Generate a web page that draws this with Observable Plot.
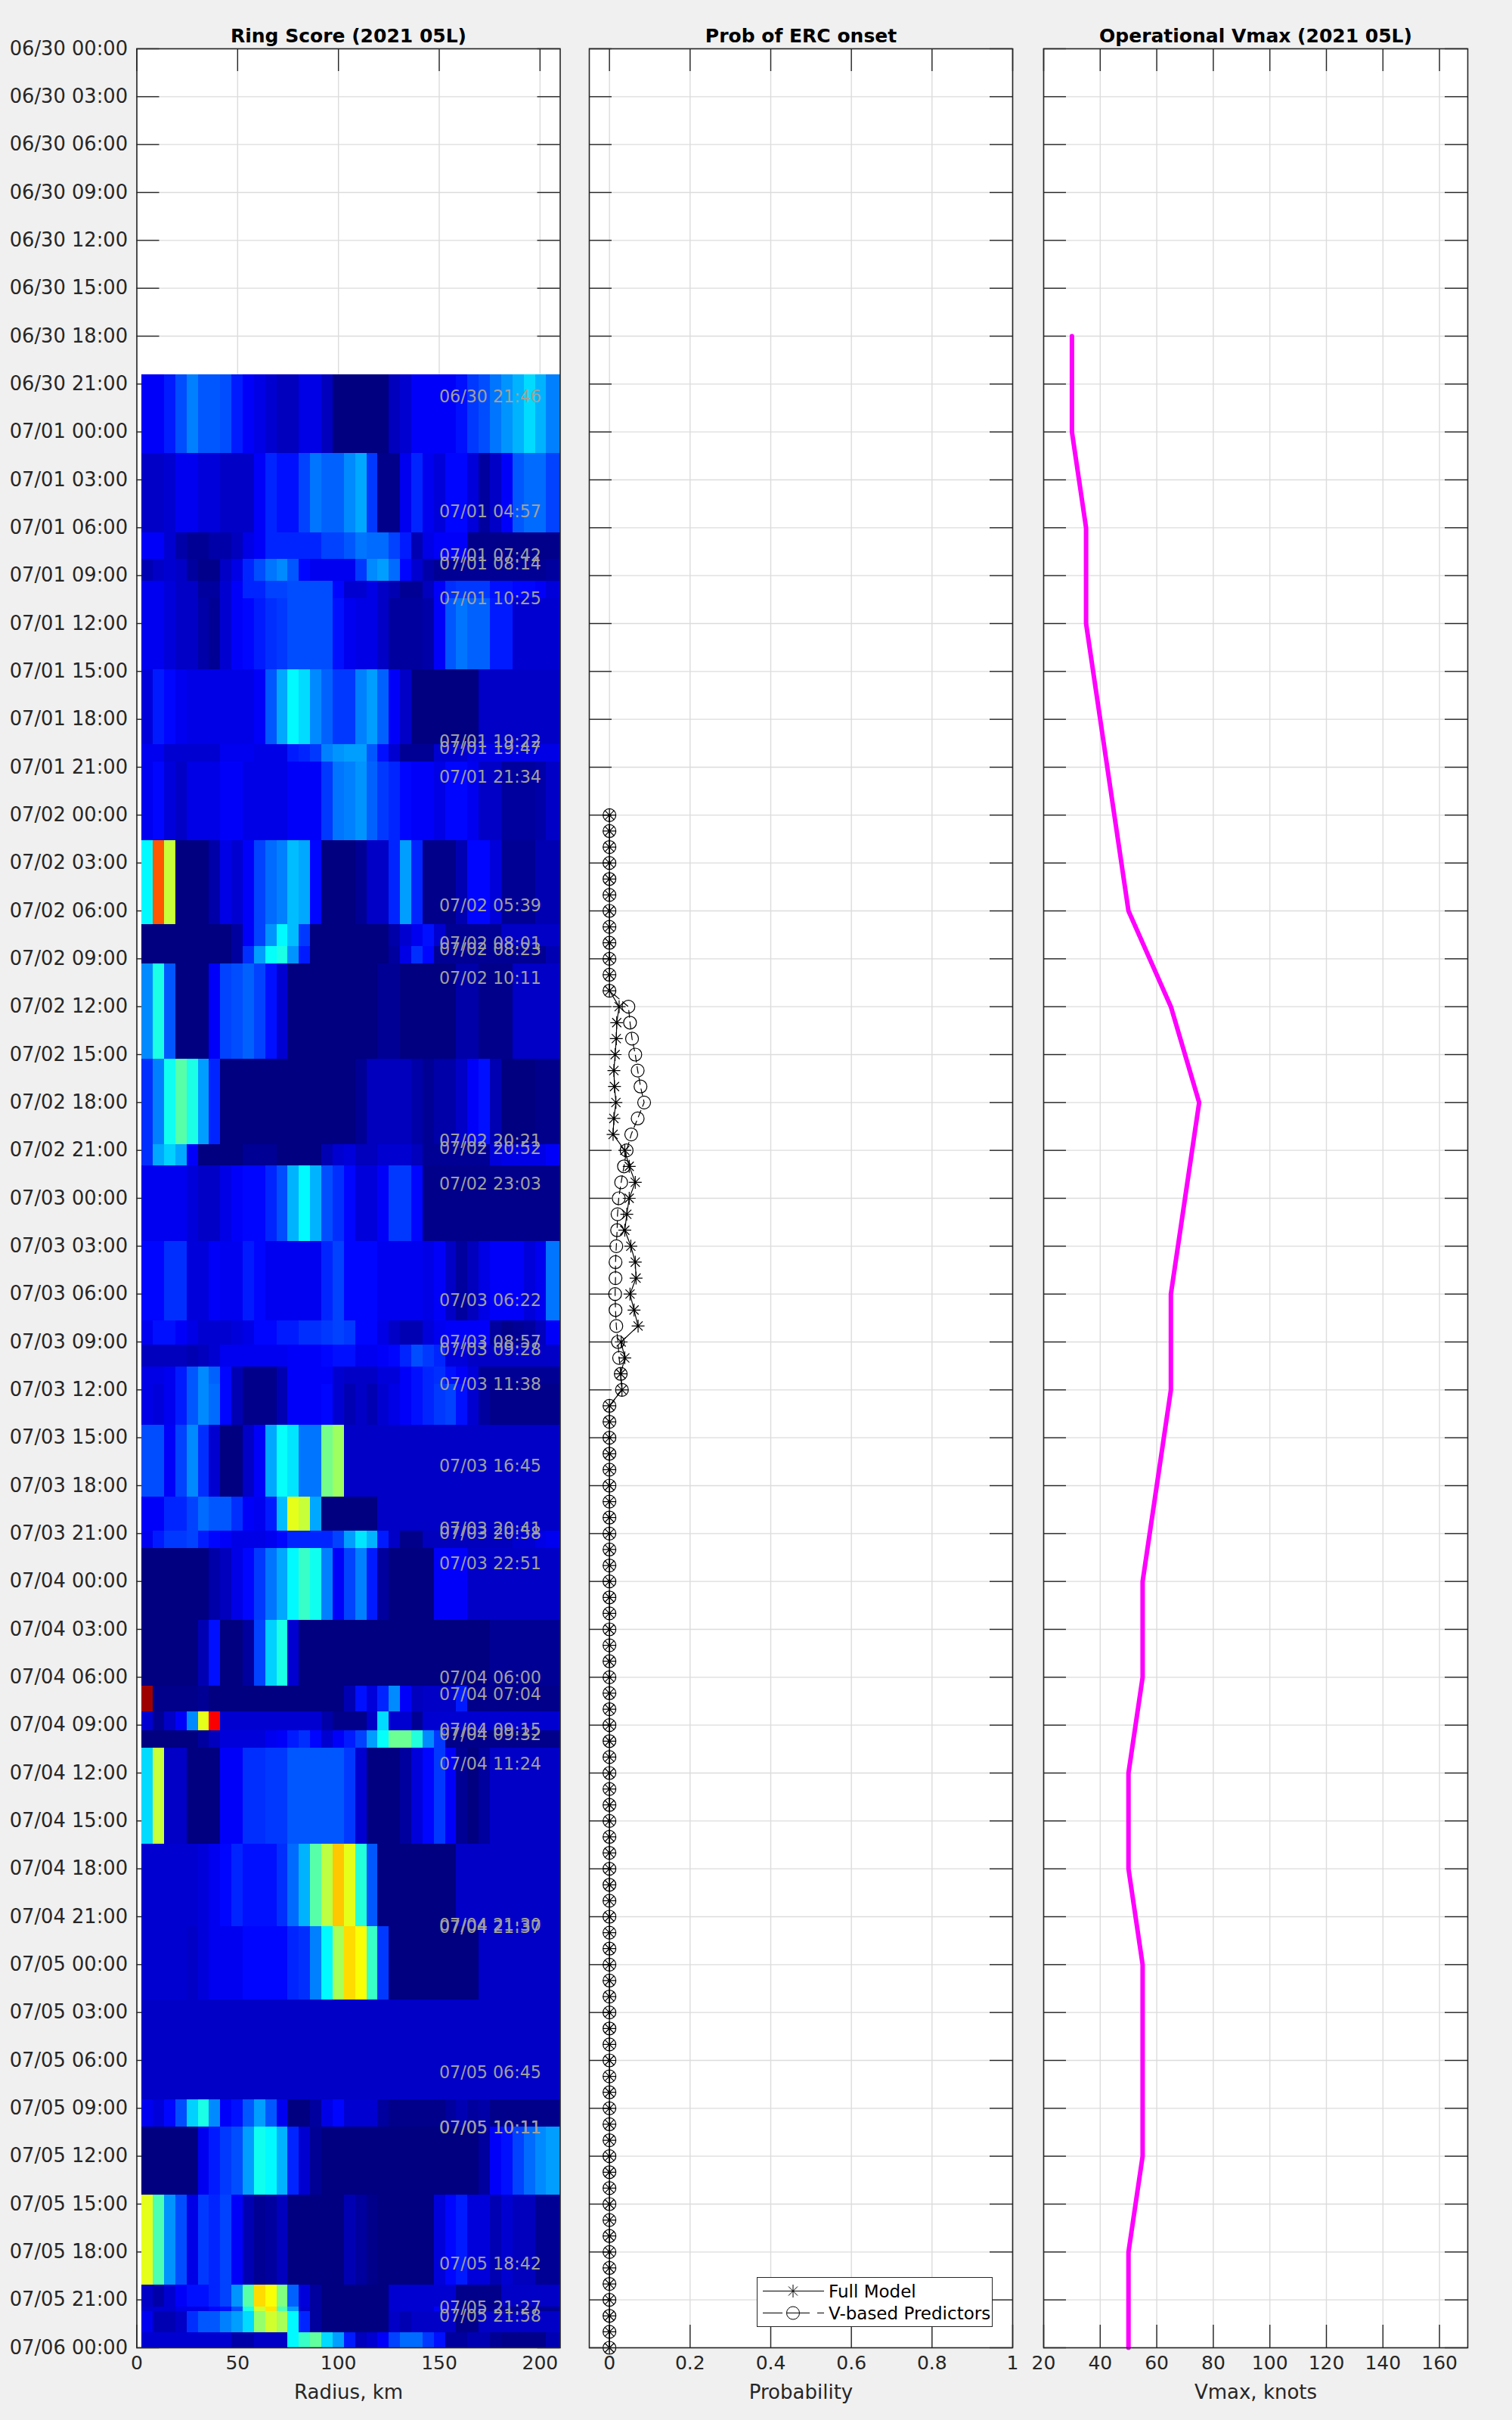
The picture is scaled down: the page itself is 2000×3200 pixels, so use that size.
<!DOCTYPE html>
<html>
<head>
<meta charset="utf-8">
<title>Ring Score 2021 05L</title>
<script src="https://cdn.jsdelivr.net/npm/d3@7"></script>
<script src="https://cdn.jsdelivr.net/npm/@observablehq/plot@0.6"></script>
<style>
html,body{margin:0;padding:0;background:#f0f0f0;}
#page{position:relative;width:2000px;height:3200px;background:#f0f0f0;overflow:hidden;font-family:"DejaVu Sans",sans-serif;}
.panel{position:absolute;top:0;}
#legend{position:absolute;left:1001px;top:3011px;width:310px;height:64px;background:#fff;border:1.5px solid #262626;}
</style>
</head>
<body>
<div id="page"></div>
<script>
// ---- Data: radial ring score per overpass (jet-scale level, 0-100) ----
const radiusStartKm = 2.5;
const radiusStepKm = 5.575;
const rowEdgeHours = [20.42,25.35,30.32,31.98,33.36,34.44,38.89,43.58,44.66,49.59,54.85,56.22,57.31,63.28,68.62,69.95,74.69,79.68,81.17,82.56,83.64,86.21,90.72,92.84,93.93,98.43,102.55,104.16,105.37,106.45,112.47,117.62,122.21,128.48,130.15,134.42,140.07,141.43,141.72,143.05,144];
const row01 = [12,12,15,20,25,21,21,20,15,12,10,8,6,6,10,10,6,0,0,0,0,0,6,8,12,12,12,12,14,18,20,24,27,30,34,30,25];
const row02 = [7,7,8,11,11,9,9,7,7,7,12,16,14,14,19,24,22,22,26,29,18,1,1,11,16,11,9,13,13,9,3,7,12,21,23,23,19];
const row03 = [12,12,8,4,2,2,4,4,6,10,12,16,16,16,16,16,19,19,21,24,23,23,19,15,5,10,12,12,12,1,1,1,1,1,1,1,1];
const row04 = [5,7,8,7,3,1,1,7,10,16,20,24,26,21,13,11,11,11,11,18,26,28,23,13,8,4,2,2,2,2,2,2,2,2,2,2,3];
const row05 = [11,11,9,7,7,3,3,8,12,16,16,19,19,20,20,20,20,13,8,8,10,7,5,2,2,6,12,17,18,18,18,14,14,13,13,12,9];
const row06 = [11,11,9,7,7,4,2,8,12,13,15,17,18,20,20,20,20,14,11,10,10,7,3,3,3,4,12,21,24,22,22,15,15,8,8,8,8];
const row07 = [9,15,13,11,10,10,10,10,10,10,12,21,29,37,34,26,22,18,18,25,28,22,12,7,0,0,0,0,0,0,7,7,7,7,7,7,7];
const row08 = [11,11,8,8,8,8,8,11,11,11,10,10,10,15,16,18,25,27,28,28,21,14,8,2,2,2,8,8,8,10,10,10,10,10,10,10,10];
const row09 = [11,13,9,7,10,10,10,12,12,10,10,10,10,12,12,12,18,24,25,27,22,18,16,13,12,12,10,13,13,11,7,7,3,3,3,4,7];
const row10 = [37,79,57,0,0,0,4,10,8,12,19,23,25,31,29,13,0,0,0,2,7,7,16,28,16,1,1,1,5,13,13,9,2,2,2,5,5];
const row11 = [0,0,0,0,0,0,0,0,3,12,19,27,37,31,18,0,0,0,0,0,0,0,4,8,11,14,8,2,2,2,2,2,7,7,7,7,7];
const row12 = [0,0,0,0,0,0,0,0,3,17,28,38,40,27,15,0,0,0,0,0,0,0,3,10,17,13,2,2,2,2,2,2,2,2,2,2,5];
const row13 = [26,40,21,0,0,0,12,19,20,22,19,14,8,0,0,0,0,0,0,0,0,2,2,0,0,0,0,0,4,4,1,1,1,7,7,7,7];
const row14 = [17,25,39,46,40,28,16,0,0,0,0,0,0,0,0,0,0,0,0,2,6,6,6,6,4,2,4,4,7,12,14,5,0,0,0,1,1];
const row15 = [17,29,33,29,12,0,0,0,0,2,2,2,0,0,0,0,5,8,9,6,6,8,8,8,6,2,2,2,2,2,2,9,10,10,10,10,12];
const row16 = [11,11,11,11,9,7,7,10,12,13,13,16,20,30,37,30,20,17,13,9,9,12,18,18,13,1,1,1,1,1,1,1,1,1,1,1,1];
const row17 = [13,13,17,17,9,9,12,11,11,15,13,11,11,11,11,11,16,19,13,13,13,11,11,11,11,10,12,7,3,6,10,12,12,12,9,11,24];
const row18 = [11,14,14,12,10,8,8,8,9,10,13,13,15,15,17,17,18,19,18,13,13,10,7,5,5,9,11,12,12,12,12,3,1,2,3,6,12];
const row19 = [6,6,6,6,5,6,8,11,11,11,11,11,11,12,12,12,13,14,14,11,11,12,13,16,20,18,16,9,9,7,7,7,7,7,7,7,7];
const row20 = [10,10,11,15,21,26,22,13,5,1,1,1,5,12,12,12,12,8,7,7,7,9,9,12,14,16,17,14,12,9,2,2,2,2,2,2,2];
const row21 = [10,9,11,15,21,26,23,13,5,1,1,1,5,12,12,12,13,8,5,7,5,8,10,12,14,16,18,19,14,8,3,1,1,1,1,1,1];
const row22 = [20,20,12,19,26,17,8,0,0,7,12,29,38,35,24,24,49,53,7,7,7,7,7,7,7,7,7,7,7,7,7,7,7,7,7,7,7];
const row23 = [12,12,16,16,19,23,21,21,17,12,11,15,31,60,57,29,0,0,0,0,0,7,7,7,7,7,7,7,7,7,7,7,7,7,7,7,7];
const row24 = [11,15,18,18,19,15,13,12,10,10,10,11,13,16,16,16,16,19,28,35,30,15,7,1,1,6,6,6,6,6,6,6,6,8,8,10,11];
const row25 = [0,0,0,0,0,0,4,6,10,13,18,24,29,37,43,39,25,12,19,25,15,3,0,0,0,0,12,12,12,7,7,7,7,7,7,7,7];
const row26 = [0,0,0,0,0,5,14,0,0,3,19,33,40,8,0,0,0,0,0,0,0,0,0,0,0,0,0,0,0,0,0,2,2,2,2,2,2];
const row27 = [97,1,1,1,1,2,0,0,0,0,0,0,0,0,0,0,0,0,5,14,9,16,26,12,6,7,7,7,15,1,1,1,1,1,1,1,1];
const row28 = [8,2,7,12,26,60,88,8,8,8,8,8,8,8,8,8,4,1,1,1,7,34,8,8,2,8,8,8,8,8,8,8,8,8,8,8,8];
const row29 = [0,0,0,0,0,3,6,9,9,9,9,11,12,15,17,13,8,12,15,19,28,38,48,48,41,26,18,1,1,1,1,1,1,1,1,1,1];
const row30 = [34,57,7,7,0,0,0,12,12,17,17,18,18,21,21,21,21,21,18,8,0,0,0,3,9,13,18,12,2,0,3,7,7,7,7,7,7];
const row31 = [8,8,8,8,8,9,11,13,16,14,14,14,17,23,30,46,56,68,60,41,21,0,0,0,0,0,0,0,7,7,7,7,7,7,7,7,7];
const row32 = [8,8,8,8,7,9,11,11,11,13,13,13,13,16,17,25,37,54,66,62,43,18,0,0,0,0,0,0,0,0,7,7,7,7,7,7,7];
const row33 = [7,7,7,7,7,7,7,7,7,7,7,7,7,7,7,7,7,7,7,7,7,7,7,7,7,7,7,7,7,7,7,7,7,7,7,7,7];
const row34 = [11,9,13,20,33,40,26,12,14,21,28,21,11,0,0,3,10,13,8,8,8,3,1,1,1,1,1,3,5,3,4,1,1,1,1,1,1];
const row35 = [0,0,0,0,0,11,15,18,20,28,39,37,30,16,8,2,0,0,0,0,0,0,0,0,0,0,0,0,0,0,3,12,14,19,23,26,28];
const row36 = [60,45,27,20,10,18,16,19,12,5,2,3,6,0,0,0,0,0,5,3,1,0,0,0,0,0,9,13,15,9,9,5,8,6,6,2,2];
const row37 = [7,4,8,12,14,14,16,19,27,46,66,62,50,22,9,3,0,0,0,0,0,0,8,8,8,8,8,8,1,1,1,1,7,7,7,7,7];
const row38 = [8,8,8,10,10,10,13,14,20,40,58,65,45,28,8,3,0,0,0,0,0,0,8,8,8,8,12,8,2,2,2,2,2,2,2,2,2];
const row39 = [11,5,5,7,17,21,21,25,28,34,52,58,54,37,16,3,0,0,0,0,0,0,7,5,7,7,7,7,1,1,7,7,7,7,7,7,7];
const row40 = [8,8,8,8,8,8,8,8,4,4,7,7,7,37,43,47,34,28,15,6,8,12,19,23,23,18,14,3,3,5,5,2,1,1,1,1,5];
const ringRows = [row01,row02,row03,row04,row05,row06,row07,row08,row09,row10,row11,row12,row13,row14,row15,row16,row17,row18,row19,row20,row21,row22,row23,row24,row25,row26,row27,row28,row29,row30,row31,row32,row33,row34,row35,row36,row37,row38,row39,row40];
const overpassLabels = ["06/30 21:46","07/01 04:57","07/01 07:42","07/01 08:14","07/01 10:25","07/01 19:22","07/01 19:47","07/01 21:34","07/02 05:39","07/02 08:01","07/02 08:23","07/02 10:11","07/02 20:21","07/02 20:52","07/02 23:03","07/03 06:22","07/03 08:57","07/03 09:28","07/03 11:38","07/03 16:45","07/03 20:41","07/03 20:58","07/03 22:51","07/04 06:00","07/04 07:04","07/04 09:15","07/04 09:32","07/04 11:24","07/04 21:30","07/04 21:37","07/05 06:45","07/05 10:11","07/05 10:11","07/05 18:42","07/05 21:27","07/05 21:58"];

// ---- Data: probability of ERC onset, hourly from 07/02 00:00 to 07/06 00:00 ----
const probZeroLead = [0,0,0,0,0,0,0,0,0,0,0,0];
const probFullMid = [.024,.018,.017,.014,.011,.0125,.016,.011,.009,.038,.049,.064,.049,.043,.038,.053,.064,.066,.051,.061,.071,.029,.038,.028,.031];
const probVMid = [.047,.051,.056,.064,.07,.077,.086,.07,.054,.0425,.036,.029,.023,.02,.019,.017,.015,.015,.014,.015,.017,.021,.024,.028,.031];
const probZeroTail = [0,0,0,0,0,0,0,0,0,0,0,0,0,0,0,0,0,0,0,0,0,0,0,0,0,0,0,0,0,0,0,0,0,0,0,0,0,0,0,0,0,0,0,0,0,0,0,0,0,0,0,0,0,0,0,0,0,0,0,0];

// ---- Data: operational Vmax, 6-hourly from 06/30 18:00 ----
const vmaxKnots = [30,30,35,35,40,45,50,65,75,70,65,65,60,55,55,50,50,55,55,55,50,50];

// ---- Ticks and text ----
const radiusTicks = [0,50,100,150,200];
const probTicks = [0,0.2,0.4,0.6,0.8,1];
const vmaxTicks = [20,40,60,80,100,120,140,160];
const titles = ["Ring Score (2021 05L)","Prob of ERC onset","Operational Vmax (2021 05L)"];
const xLabels = ["Radius, km","Probability","Vmax, knots"];
const legendLabels = ["Full Model","V-based Predictors"];

// ---- Helpers ----
const t0 = Date.UTC(2021,5,30);
const atHour = h => new Date(t0 + h*3600e3);
const parseLabel = d3.utcParse("%Y/%m/%d %H:%M");
const timeTicks = d3.range(0,145,3).map(atHour);
const yDomain = [atHour(0),atHour(144)];
const fmtTime = d3.utcFormat("%m/%d %H:%M");
const INK = "#262626", GRID = "#dcdcdc";
const H = 3200, MT = 64, MB = 96, TICK = 30;
const FONT = '25px "DejaVu Sans", sans-serif';

const star8 = {draw(c,size){
  const r = Math.sqrt(size/Math.PI), d = r*Math.SQRT1_2;
  c.moveTo(-r,0);c.lineTo(r,0);c.moveTo(0,-r);c.lineTo(0,r);
  c.moveTo(-d,-d);c.lineTo(d,d);c.moveTo(-d,d);c.lineTo(d,-d);
}};

function panel({left,width,ml,mr,xDomain,xTicks,title,xLabel,fmt,showY,marks}){
  const innerW = width-ml-mr;
  const chart = Plot.plot({
    width, height:H, marginTop:MT, marginBottom:MB, marginLeft:ml, marginRight:mr,
    style:{font:FONT, background:"transparent", overflow:"visible"},
    x:{domain:xDomain, label:null},
    y:{type:"utc", domain:yDomain, range:[MT,H-MB], label:null, axis:showY?undefined:null},
    color:{type:"linear", domain:[0,12.5,37.5,62.5,87.5,100], range:["#000080","#0000ff","#00ffff","#ffff00","#ff0000","#800000"], interpolate:"rgb", clamp:true},
    marks:[
      Plot.frame({fill:"white",stroke:null}),
      Plot.ruleX(xTicks,{stroke:GRID,strokeWidth:1.4}),
      Plot.ruleY(timeTicks,{stroke:GRID,strokeWidth:1.4}),
      Plot.ruleY(timeTicks,{stroke:INK,strokeWidth:1.4,insetRight:innerW-TICK}),
      Plot.ruleY(timeTicks,{stroke:INK,strokeWidth:1.4,insetLeft:innerW-TICK}),
      Plot.ruleX(xTicks,{stroke:INK,strokeWidth:1.4,insetBottom:H-MT-MB-TICK}),
      Plot.ruleX(xTicks,{stroke:INK,strokeWidth:1.4,insetTop:H-MT-MB-TICK}),
      ...marks,
      Plot.frame({stroke:INK,strokeWidth:1.6}),
      Plot.axisX({ticks:xTicks,tickSize:0,tickPadding:11,tickFormat:fmt,label:null,fill:INK}),
      Plot.text([xLabel],{frameAnchor:"bottom",dy:59,fontSize:26,fill:INK,lineAnchor:"middle"}),
      showY ? Plot.axisY({ticks:timeTicks,tickSize:0,tickPadding:12,tickFormat:fmtTime,label:null,fill:INK,fontSize:25.7}) : null,
      Plot.text([title],{frameAnchor:"top",dy:-17,fontWeight:"bold",fill:"black",fontSize:25,lineAnchor:"middle"})
    ]
  });
  chart.classList.add("panel");
  chart.style.left = left+"px";
  document.getElementById("page").appendChild(chart);
}

// Panel 1: ring score
const cells = ringRows.flatMap((row,r)=>row.map((v,c)=>({
  x1: radiusStartKm+c*radiusStepKm,
  x2: c===row.length-1 ? 210 : radiusStartKm+(c+1)*radiusStepKm,
  y1: atHour(rowEdgeHours[r]), y2: atHour(rowEdgeHours[r+1]), v
})));
panel({left:0,width:760,ml:180.5,mr:19.5,xDomain:[0,210],xTicks:radiusTicks,title:titles[0],xLabel:xLabels[0],fmt:d=>String(d),showY:true,marks:[
  Plot.rect(cells,{x1:"x1",x2:"x2",y1:"y1",y2:"y2",fill:"v",shapeRendering:"crispEdges"}),
  Plot.text(overpassLabels,{x:()=>150,y:d=>parseLabel("2021/"+d),text:d=>d,textAnchor:"start",lineAnchor:"middle",dy:1,fontSize:22.2,fill:"#a0a0a0"})
]});

// Panel 2: probability
const probFull = [...probZeroLead,...probFullMid,...probZeroTail];
const probV = [...probZeroLead,...probVMid,...probZeroTail];
const probT = probFull.map((_,i)=>atHour(48+i));
const probFmt = d=>String(d);
panel({left:760,width:600,ml:19,mr:21,xDomain:[-0.05,1],xTicks:probTicks,title:titles[1],xLabel:xLabels[1],fmt:probFmt,showY:false,marks:[
  Plot.lineX(probFull,{x:d=>d,y:(d,i)=>probT[i],stroke:"black",strokeWidth:1.2}),
  Plot.lineX(probV,{x:d=>d,y:(d,i)=>probT[i],stroke:"black",strokeWidth:1.2,strokeDasharray:"9 6"}),
  Plot.dot(probFull,{x:d=>d,y:(d,i)=>probT[i],r:8.5,symbol:star8,stroke:"black",strokeWidth:1.2,fill:"none"}),
  Plot.dot(probV,{x:d=>d,y:(d,i)=>probT[i],r:8.5,symbol:"circle",stroke:"black",strokeWidth:1.2,fill:"none"})
]});

// Panel 3: Vmax
panel({left:1360,width:640,ml:20,mr:59,xDomain:[20,170],xTicks:vmaxTicks,title:titles[2],xLabel:xLabels[2],fmt:d=>String(d),showY:false,marks:[
  Plot.lineX(vmaxKnots,{x:d=>d,y:(d,i)=>atHour(18+i*6),stroke:"#ff00ff",strokeWidth:6,strokeLinejoin:"miter"})
]});

// Legend (overlay in panel 2)
const legend = document.createElement("div");
legend.id = "legend";
const svgNS = "http://www.w3.org/2000/svg";
const ls = d3.select(legend).append(()=>document.createElementNS(svgNS,"svg")).attr("width",310).attr("height",64).style("display","block");
const rowY = [17.5,46.5];
legendLabels.forEach((lab,i)=>{
  ls.append("line").attr("x1",7).attr("x2",88).attr("y1",rowY[i]).attr("y2",rowY[i]).attr("stroke","black").attr("stroke-width",1).attr("stroke-dasharray",i?"26 10":null);
  ls.append("text").attr("x",94).attr("y",rowY[i]).attr("dy","0.36em").attr("font-family","DejaVu Sans").attr("font-size",23).attr("fill","black").text(lab);
  if(i){ ls.append("circle").attr("cx",47).attr("cy",rowY[i]).attr("r",8.5).attr("fill","white").attr("stroke","black"); ls.append("line").attr("x1",38.5).attr("x2",55.5).attr("y1",rowY[i]).attr("y2",rowY[i]).attr("stroke","black"); }
  else { const ctx = d3.path(); star8.draw(ctx,Math.PI*8.5*8.5); ls.append("path").attr("d",ctx.toString()).attr("transform",`translate(47,${rowY[i]})`).attr("stroke","black").attr("fill","none"); }
});
document.getElementById("page").appendChild(legend);
</script>
</body>
</html>
